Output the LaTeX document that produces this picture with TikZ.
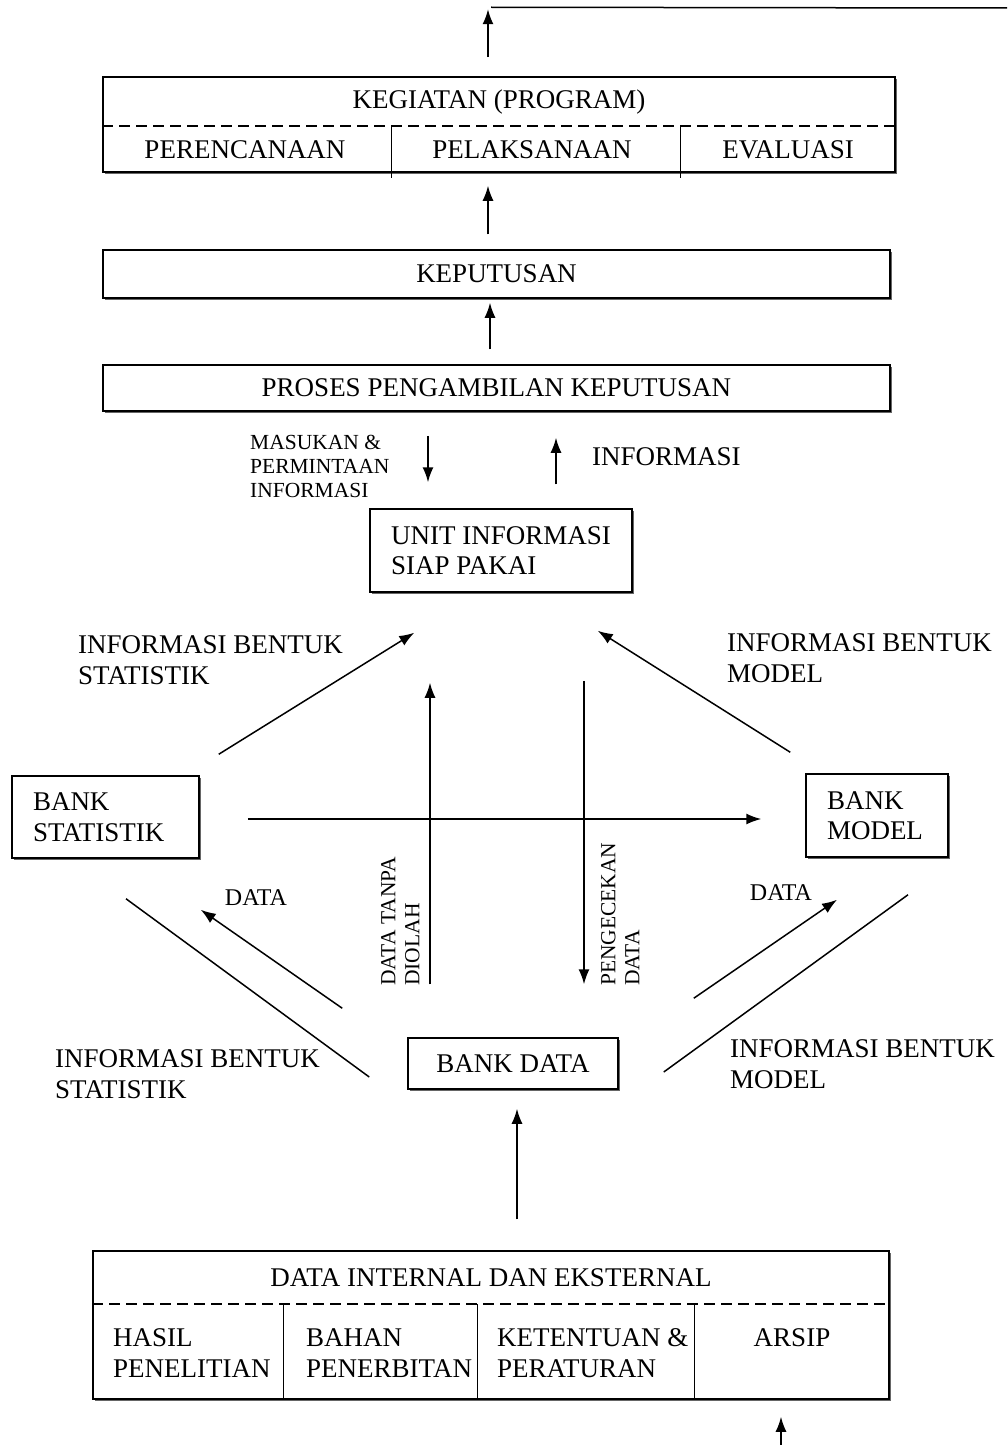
\documentclass[tikz,border=0pt]{standalone}
\usepackage{fontspec}
\setmainfont{Liberation Serif}
\usetikzlibrary{arrows.meta}
\usetikzlibrary{calc}
\usetikzlibrary{shadows}
\tikzset{box/.style = {draw, fill=white, line width=1.5pt, inner sep=0,
                       drop shadow={shadow xshift=1.5pt, shadow yshift=-1.5pt,
                                    fill=black!60, opacity=1}}}
\tikzset{txt/.style = {font=\fontsize{27}{30.5}\selectfont, inner sep=0, align=left}}
\tikzset{small/.style = {font=\fontsize{21.5}{24}\selectfont, inner sep=0, align=left}}
\tikzset{dlbl/.style = {font=\fontsize{24}{28}\selectfont, inner sep=0}}
\tikzset{arr/.style = {line width=1.5pt, -{Latex[length=15pt,width=11pt]}}}
\tikzset{ln/.style = {line width=1.5pt}}
\tikzset{dash line/.style = {line width=2pt, dash pattern=on 11pt off 6pt}}

\begin{document}
\begin{tikzpicture}[x=1pt, y=-1pt]
  \useasboundingbox (0,0) rectangle (1007,1445);

  \node [box, minimum width=792, minimum height=95] (keg) at (499,124.5) {};
  \draw [dash line] ($(keg.north west)+(0,50)$) -- ($(keg.north east)+(0,50)$);
  \draw [ln] ($(keg.north west)+(289,50)$) -- ($(keg.south west)+(289,5)$);
  \draw [ln] ($(keg.north west)+(578,50)$) -- ($(keg.south west)+(578,5)$);
  \node [txt] (kegt) at (499,102) {KEGIATAN (PROGRAM)};
  \node [txt] (renc) at (245,150) {PERENCANAAN};
  \node [txt] (pelak) at (532,150) {PELAKSANAAN};
  \node [txt] (eval) at (788,150) {EVALUASI};

  \node [box, txt, minimum width=787, minimum height=48] (kep) at (496.5,274) {KEPUTUSAN};
  \node [box, txt, minimum width=787, minimum height=46] (proses) at (496.5,388) {PROSES PENGAMBILAN KEPUTUSAN};
  \node [box, txt, minimum width=262, minimum height=83] (unit) at (501,550.5) {UNIT INFORMASI\\SIAP PAKAI};
  \node [box, txt, inner xsep=21pt, text width=145pt, minimum height=82] (bstat) at (105.5,817) {BANK\\STATISTIK};
  \node [box, txt, inner xsep=21pt, text width=100pt, minimum height=83] (bmodel) at (877,815.5) {BANK\\MODEL};
  \node [box, txt, minimum width=210, minimum height=51] (bdata) at (513,1063.5) {BANK DATA};

  \node [box, minimum width=796, minimum height=148] (dataie) at (491,1325) {};
  \draw [dash line] ($(dataie.north west)+(0,54)$) -- ($(dataie.north east)+(0,54)$);
  \draw [ln] ($(dataie.north west)+(191,54)$) -- ($(dataie.south west)+(191,0)$);
  \draw [ln] ($(dataie.north west)+(385,54)$) -- ($(dataie.south west)+(385,0)$);
  \draw [ln] ($(dataie.north west)+(602,54)$) -- ($(dataie.south west)+(602,0)$);
  \node [txt] (dataiet) at (491,1278) {DATA INTERNAL DAN EKSTERNAL};
  \node [txt, anchor=west] (hasil) at (113,1353) {HASIL\\PENELITIAN};
  \node [txt, anchor=west] (bahan) at (306,1353) {BAHAN\\PENERBITAN};
  \node [txt, anchor=west] (ketentuan) at (497,1353) {KETENTUAN \&\\PERATURAN};
  \node [txt] (arsip) at (792,1338) {ARSIP};

  \node [small, anchor=west] (masukan) at (250,466) {MASUKAN \&\\PERMINTAAN\\INFORMASI};
  \node [txt, anchor=west] (info) at (592,457) {INFORMASI};
  \node [txt, anchor=west] (istat1) at (78,660) {INFORMASI BENTUK\\STATISTIK};
  \node [txt, anchor=west] (imod1) at (727,658) {INFORMASI BENTUK\\MODEL};
  \node [dlbl] (dstat) at (256,898) {DATA};
  \node [dlbl] (dmod) at (781,893) {DATA};
  \node [small, rotate=90, anchor=north west] (tanpa) at (381,986) {DATA TANPA\\DIOLAH};
  \node [small, rotate=90, anchor=north west] (cek) at (601,986) {PENGECEKAN\\DATA};
  \node [txt, anchor=west] (istat2) at (55,1074) {INFORMASI BENTUK\\STATISTIK};
  \node [txt, anchor=west] (imod2) at (730,1064) {INFORMASI BENTUK\\MODEL};

  \coordinate (feedback) at (1007,8);
  \coordinate (arsipin) at (781,1445);

  \draw [arr] ($(keg.north)+(-11,-19)$) -- ($(keg.north)+(-11,-67)$);
  \draw [ln] ($(keg.north)+(-8,-69)$) -- (feedback);
  \draw [arr] ($(kep.north)+(-8.5,-15)$) -- ($(keg.south)+(-11,13)$);
  \draw [arr] ($(proses.north)+(-6.5,-15)$) -- ($(kep.south)+(-6.5,4)$);
  \draw [arr] ($(proses.south)+(-68.5,24)$) -- ($(unit.north)+(-73,-26)$);
  \draw [arr] ($(unit.north)+(55,-24)$) -- ($(proses.south)+(59.5,26)$);
  \draw [arr] ($(bstat.north east)+(19,-21)$) -- ($(unit.south west)+(45,40)$);
  \draw [arr] ($(bmodel.north west)+(-15,-21)$) -- ($(unit.south east)+(-35,38)$);
  \draw [arr] ($(bdata.north)+(-83,-53)$) -- ($(unit.south)+(-71,90)$);
  \draw [arr] ($(unit.south)+(83,88)$) -- ($(bdata.north)+(71,-53)$);
  \draw [arr] ($(bstat.east)+(48,2)$) -- ($(bmodel.west)+(-44,3.5)$);
  \draw [arr] ($(bdata.north west)+(-65,-29)$) -- ($(bstat.south east)+(1,51)$);
  \draw [ln] ($(bstat.south)+(20.5,40)$) -- ($(bdata.west)+(-38,13.5)$);
  \draw [arr] ($(bdata.north east)+(75,-39)$) -- ($(bmodel.south)+(-40,42)$);
  \draw [ln] ($(bmodel.south)+(31,37)$) -- ($(bdata.east)+(45,8.5)$);
  \draw [arr] ($(dataie.north)+(26,-31)$) -- ($(bdata.south)+(4,19)$);
  \draw [arr] (arsipin) -- ($(dataie.south)+(290,17)$);
\end{tikzpicture}
\end{document}
